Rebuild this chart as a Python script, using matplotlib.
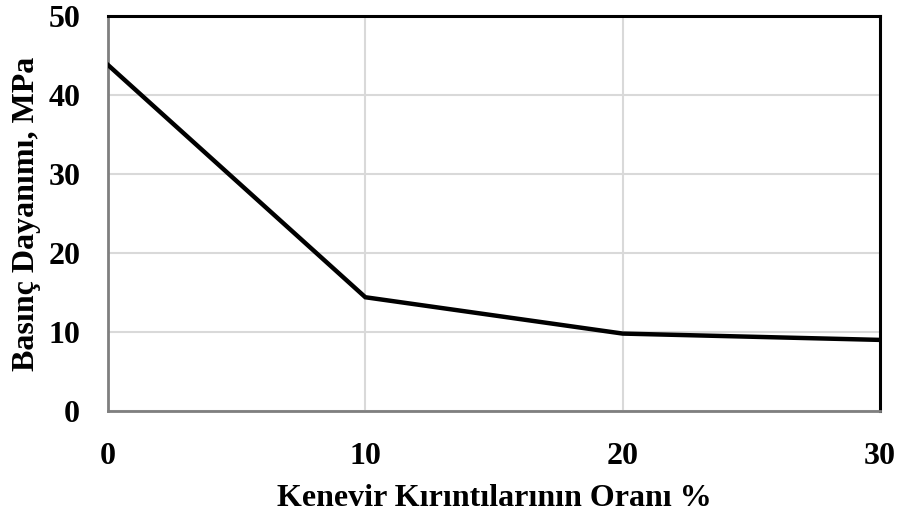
import matplotlib.pyplot as plt

oran = [0, 10, 20, 30]
dayanim = [43.8, 14.4, 9.8, 9.0]
x_ticks = [0, 10, 20, 30]
y_ticks = [0, 10, 20, 30, 40, 50]

plt.rcParams["font.family"] = ["Liberation Serif", "DejaVu Serif"]
plt.rcParams["font.weight"] = "bold"

fig = plt.figure(figsize=(9.01, 5.17), dpi=100)
ax = fig.add_axes([108 / 901, 1 - 411 / 517, 772 / 901, 395 / 517])

ax.plot(oran, dayanim, color="black", linewidth=3.2, solid_joinstyle="miter", zorder=3)

ax.set_xlim(0, 30)
ax.set_ylim(0, 50)
ax.set_xticks(x_ticks)
ax.set_yticks(y_ticks)
ax.grid(True, color="#d9d9d9", linewidth=1.5)
ax.set_axisbelow(True)
ax.tick_params(length=0, labelsize=23)
ax.tick_params(axis="x", pad=22)
ax.tick_params(axis="y", pad=20)
for lbl in ax.get_xticklabels() + ax.get_yticklabels():
    lbl.set_fontweight("bold")

for side in ("top", "right"):
    ax.spines[side].set_color("black")
    ax.spines[side].set_linewidth(2.2)
for side in ("left", "bottom"):
    ax.spines[side].set_color("#7f7f7f")
    ax.spines[side].set_linewidth(2)

ax.set_xlabel("Kenevir Kırıntılarının Oranı %", fontsize=23, fontweight="bold", labelpad=10)
ax.set_ylabel("Basınç Dayanımı, MPa", fontsize=23, fontweight="bold", labelpad=5)

fig.savefig("out.png", dpi=100)
